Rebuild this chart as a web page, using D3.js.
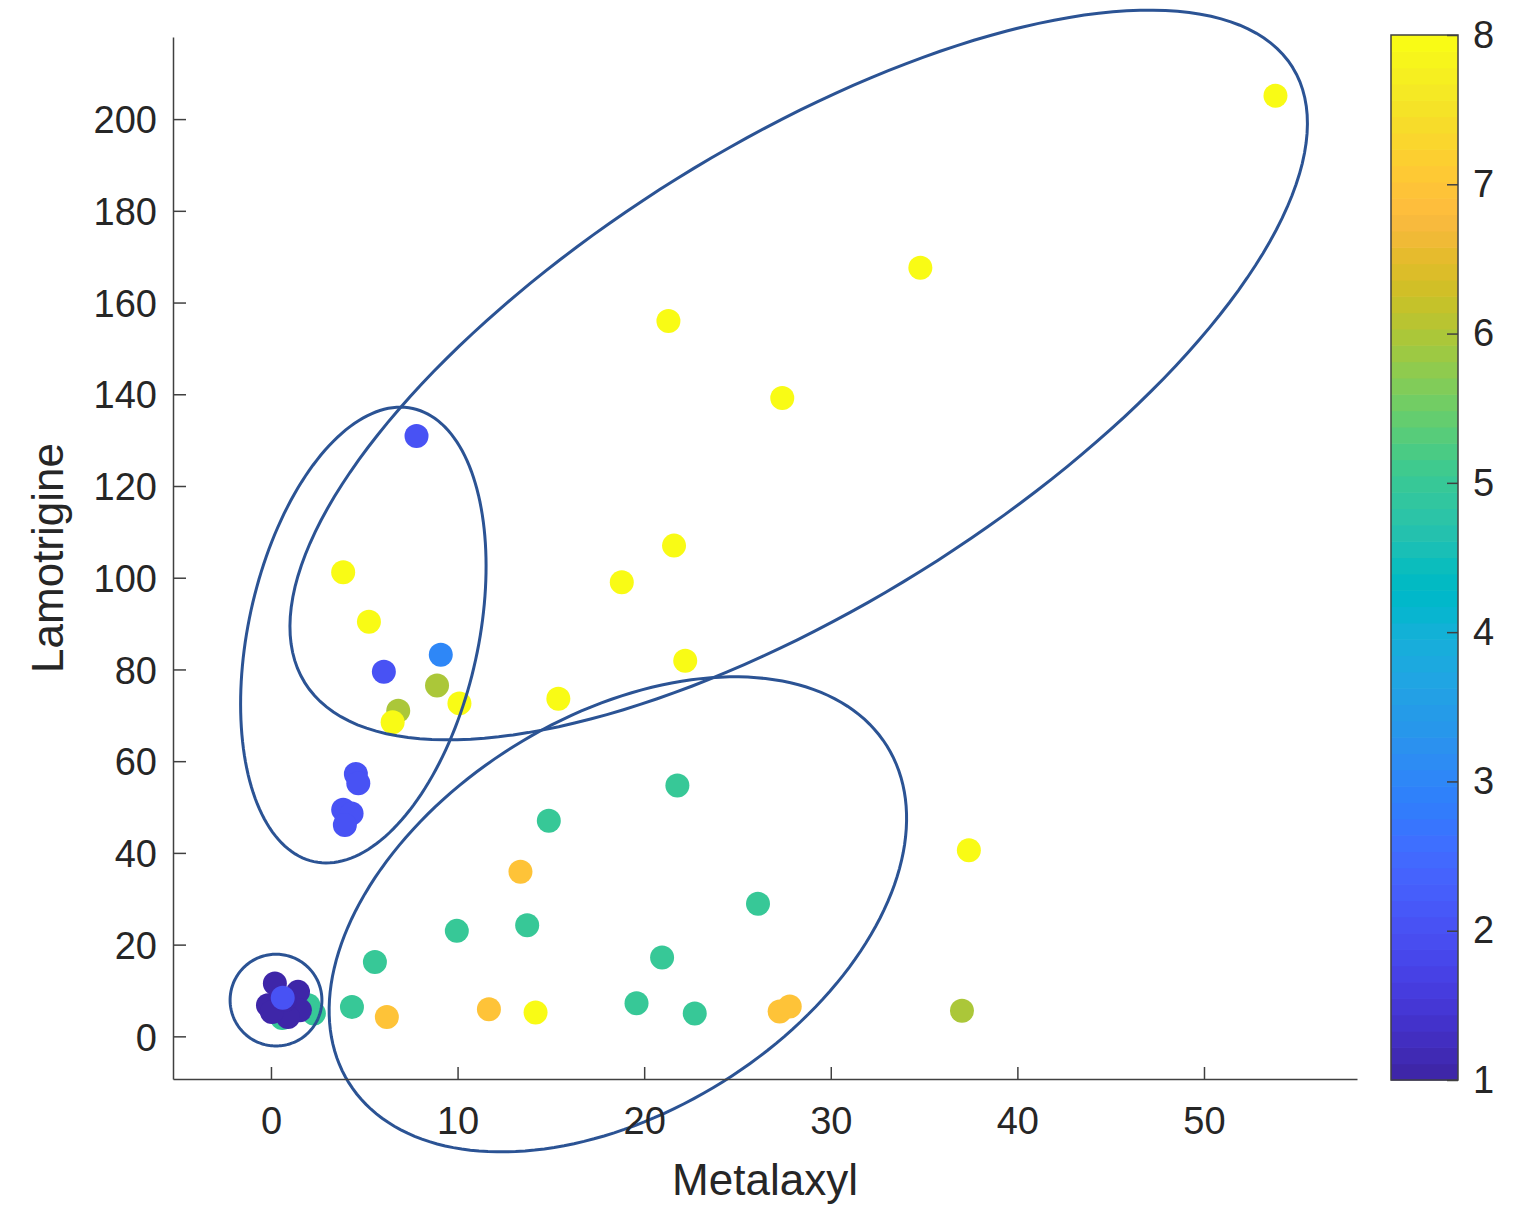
<!DOCTYPE html>
<html>
<head>
<meta charset="UTF-8">
<style>
  body { margin: 0; background: #ffffff; }
  text { font-family: "Liberation Sans", Arial, sans-serif; fill: #262626; }
</style>
<script src="https://cdn.jsdelivr.net/npm/d3@7"></script>
</head>
<body>
<svg id="chart" width="1526" height="1209"></svg>
<script>
// Metalaxyl (x), Lamotrigine (y), group value (colour 1..8)
var metalaxyl = [
  0.6, 2.0, 2.3,
  0.21, 1.45, -0.16, 1.55, 0.91, 0.05, 0.75,
  0.63,
  7.8, 6.05, 4.55, 4.68, 3.87, 4.32, 3.96,
  9.1,
  8.9, 6.82, 37.03,
  13.37, 11.68, 6.21, 27.26, 27.8,
  21.78, 14.89, 13.73, 9.96, 26.1, 20.96, 19.59, 22.71, 5.57, 4.34,
  53.83, 34.8, 21.3, 27.4, 21.6, 18.8, 22.2, 15.4, 10.1, 3.87, 5.25, 6.52, 14.18, 37.4
];
var lamotrigine = [
  4.0, 6.8, 5.0,
  11.5, 9.7, 6.8, 5.7, 4.2, 5.3, 7.9,
  8.4,
  130.9, 79.5, 57.2, 55.2, 49.4, 48.6, 46.1,
  83.2,
  76.5, 71.0, 5.6,
  35.9, 5.9, 4.2, 5.4, 6.5,
  54.7, 47.0, 24.2, 23.0, 28.9, 17.2, 7.2, 5.0, 16.2, 6.4,
  205.1, 167.6, 156.0, 139.2, 107.0, 99.0, 81.9, 73.6, 72.6, 101.2, 90.4, 68.5, 5.2, 40.6
];
var group = [
  5, 5, 5,
  1, 1, 1, 1, 1, 1, 1,
  2,
  2, 2, 2, 2, 2, 2, 2,
  3,
  6, 6, 6,
  7, 7, 7, 7, 7,
  5, 5, 5, 5, 5, 5, 5, 5, 5, 5,
  8, 8, 8, 8, 8, 8, 8, 8, 8, 8, 8, 8, 8, 8
];

var xTicks = [0, 10, 20, 30, 40, 50];
var yTicks = [0, 20, 40, 60, 80, 100, 120, 140, 160, 180, 200];
var cTicks = [1, 2, 3, 4, 5, 6, 7, 8];

// ellipses: centre and two conjugate semi-diameters, in data units
var ellCx = [0.27, 4.95, 18.59, 28.28];
var ellCy = [7.9, 87.5, 26.6, 144.2];
var ellU = [[2.46, 0], [2.65, 49.4], [14.42, 36.7], [26.47, 67.07]];
var ellV = [[0, 10.0], [6.02, -5.34], [5.61, -36.55], [6.53, -42.79]];

// parula colormap
var parula = [
  [0.2422,0.1504,0.6603],[0.2504,0.1650,0.7076],[0.2578,0.1818,0.7511],[0.2647,0.1978,0.7952],
  [0.2706,0.2147,0.8364],[0.2751,0.2342,0.8710],[0.2783,0.2559,0.8991],[0.2803,0.2782,0.9221],
  [0.2813,0.3006,0.9414],[0.2810,0.3228,0.9579],[0.2795,0.3447,0.9717],[0.2760,0.3667,0.9829],
  [0.2699,0.3892,0.9906],[0.2602,0.4123,0.9952],[0.2440,0.4358,0.9988],[0.2206,0.4603,0.9973],
  [0.1963,0.4847,0.9892],[0.1834,0.5074,0.9798],[0.1786,0.5289,0.9682],[0.1764,0.5499,0.9520],
  [0.1687,0.5703,0.9359],[0.1540,0.5902,0.9218],[0.1460,0.6091,0.9079],[0.1380,0.6276,0.8973],
  [0.1248,0.6459,0.8883],[0.1113,0.6635,0.8763],[0.0952,0.6798,0.8598],[0.0689,0.6948,0.8394],
  [0.0297,0.7082,0.8163],[0.0036,0.7203,0.7917],[0.0067,0.7312,0.7660],[0.0433,0.7411,0.7394],
  [0.0964,0.7500,0.7120],[0.1408,0.7584,0.6842],[0.1717,0.7670,0.6554],[0.1938,0.7758,0.6251],
  [0.2161,0.7843,0.5923],[0.2470,0.7918,0.5567],[0.2906,0.7973,0.5188],[0.3406,0.8008,0.4789],
  [0.3909,0.8029,0.4354],[0.4456,0.8024,0.3909],[0.5044,0.7993,0.3480],[0.5616,0.7942,0.3045],
  [0.6174,0.7876,0.2612],[0.6720,0.7793,0.2227],[0.7242,0.7698,0.1910],[0.7738,0.7598,0.1646],
  [0.8203,0.7498,0.1535],[0.8634,0.7406,0.1596],[0.9035,0.7330,0.1774],[0.9393,0.7288,0.2100],
  [0.9728,0.7298,0.2394],[0.9956,0.7434,0.2371],[0.9970,0.7659,0.2199],[0.9952,0.7893,0.2028],
  [0.9892,0.8136,0.1885],[0.9786,0.8386,0.1766],[0.9676,0.8639,0.1643],[0.9610,0.8890,0.1537],
  [0.9597,0.9135,0.1423],[0.9628,0.9373,0.1265],[0.9691,0.9606,0.1064],[0.9769,0.9839,0.0805]
];

var svg = d3.select("#chart");
var axisColor = "#404040";
var tickFont = "'Liberation Sans', Arial, sans-serif";

var x = d3.scaleLinear().domain([-5.25, 58.2]).range([173, 1357]);
var y = d3.scaleLinear().domain([-9.3, 217.9]).range([1079, 37]);

var parulaColors = parula.map(function(c){
  return d3.rgb(c[0]*255, c[1]*255, c[2]*255).formatHex();
});
var cmap = d3.scaleQuantize().domain([1, 8]).range(parulaColors);

// points
var pts = metalaxyl.map(function(d, i){ return {x: d, y: lamotrigine[i], g: group[i]}; });
svg.append("g").selectAll("circle").data(pts).enter()
  .append("circle")
  .attr("cx", function(d){ return x(d.x); })
  .attr("cy", function(d){ return y(d.y); })
  .attr("r", 12)
  .attr("fill", function(d){ return cmap(d.g); });

// ellipses
var line = d3.line()
  .x(function(d){ return x(d[0]); })
  .y(function(d){ return y(d[1]); })
  .curve(d3.curveLinearClosed);
var tSteps = d3.range(0, 360, 2);
ellCx.forEach(function(cx, k){
  var cy = ellCy[k], u = ellU[k], v = ellV[k];
  var ring = tSteps.map(function(a){
    var t = a * Math.PI / 180;
    return [cx + u[0]*Math.cos(t) + v[0]*Math.sin(t),
            cy + u[1]*Math.cos(t) + v[1]*Math.sin(t)];
  });
  svg.append("path")
    .attr("d", line(ring))
    .attr("fill", "none")
    .attr("stroke", "#2b5394")
    .attr("stroke-width", 3);
});

// x axis
var xAxis = svg.append("g")
  .attr("transform", "translate(0," + 1079 + ")")
  .call(d3.axisBottom(x).tickValues(xTicks).tickSizeInner(-12).tickSizeOuter(0).tickPadding(28));
// y axis
var yAxis = svg.append("g")
  .attr("transform", "translate(" + 173 + ",0)")
  .call(d3.axisLeft(y).tickValues(yTicks).tickSizeInner(-13).tickSizeOuter(0).tickPadding(16));

[xAxis, yAxis].forEach(function(a){
  a.select(".domain").attr("stroke", axisColor).attr("stroke-width", 1.5);
  a.selectAll(".tick line").attr("stroke", axisColor).attr("stroke-width", 1.5);
  a.selectAll(".tick text").attr("font-size", 38).attr("fill", "#262626")
    .style("font-family", tickFont);
});
yAxis.selectAll(".tick text").attr("dy", "0.36em");

svg.append("text")
  .attr("x", 765).attr("y", 1195)
  .attr("text-anchor", "middle")
  .attr("font-size", 44)
  .text("Metalaxyl");

svg.append("text")
  .attr("transform", "translate(63,558) rotate(-90)")
  .attr("text-anchor", "middle")
  .attr("font-size", 44)
  .text("Lamotrigine");

// colorbar
var cb = {left: 1391, right: 1458, top: 35, bottom: 1080};
var cy = d3.scaleLinear().domain([1, 8]).range([cb.bottom, cb.top]);
var steps = d3.range(0, parulaColors.length);
var stepH = (cb.bottom - cb.top) / parulaColors.length;
svg.append("g").selectAll("rect").data(steps).enter()
  .append("rect")
  .attr("x", cb.left)
  .attr("width", cb.right - cb.left)
  .attr("y", function(i){ return cb.bottom - (i + 1) * stepH; })
  .attr("height", stepH + 0.6)
  .attr("fill", function(i){ return parulaColors[i]; });

svg.append("rect")
  .attr("x", cb.left).attr("y", cb.top)
  .attr("width", cb.right - cb.left).attr("height", cb.bottom - cb.top)
  .attr("fill", "none").attr("stroke", axisColor).attr("stroke-width", 1.5);

var cAxis = svg.append("g")
  .attr("transform", "translate(" + cb.right + ",0)")
  .call(d3.axisRight(cy).tickValues(cTicks).tickFormat(d3.format("d"))
    .tickSizeInner(-11).tickSizeOuter(0).tickPadding(15));
cAxis.select(".domain").remove();
cAxis.selectAll(".tick line").attr("stroke", axisColor).attr("stroke-width", 1.5);
cAxis.selectAll(".tick text").attr("font-size", 38).attr("fill", "#262626")
  .style("font-family", tickFont);
</script>
</body>
</html>
